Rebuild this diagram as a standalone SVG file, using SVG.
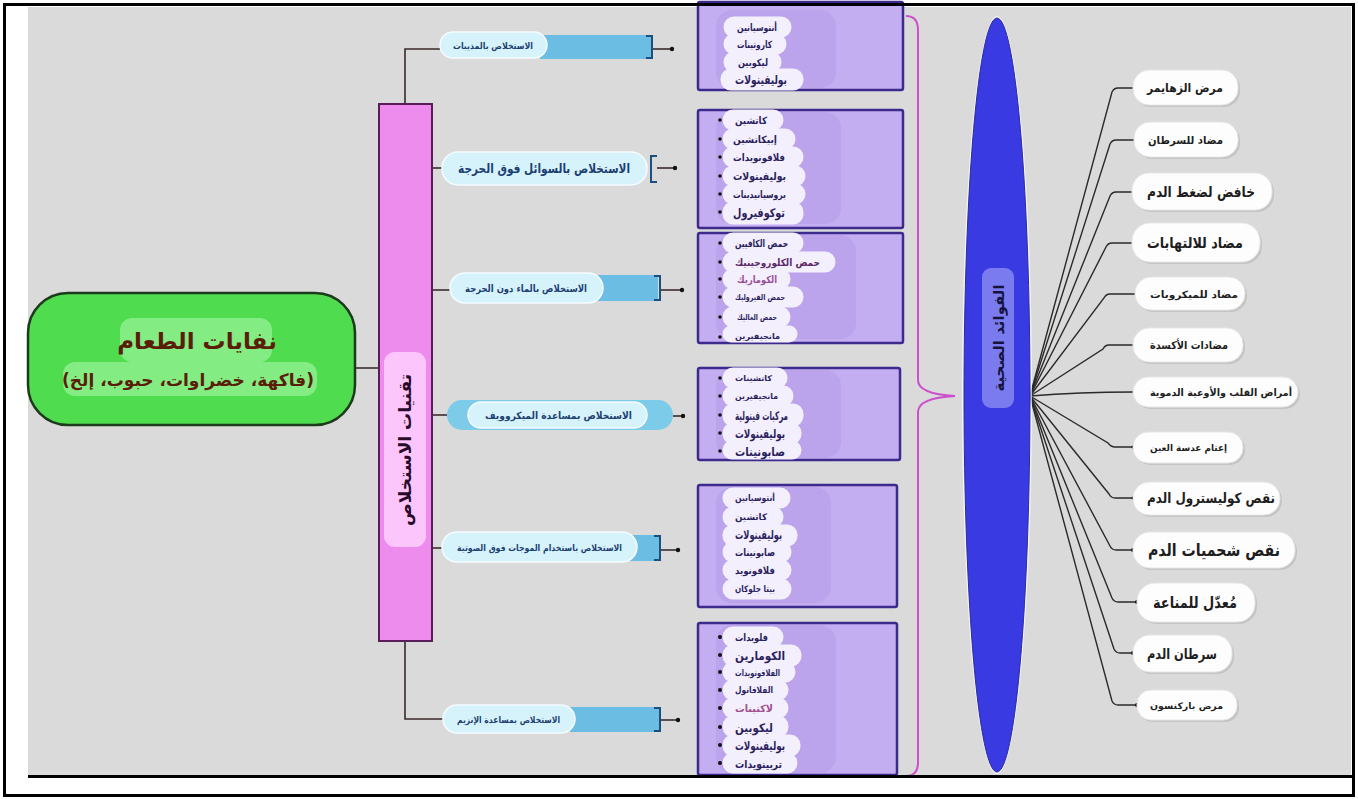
<svg xmlns="http://www.w3.org/2000/svg" width="1358" height="799" viewBox="0 0 1358 799">
<defs>
<style>
text{font-family:"DejaVu Sans",sans-serif;}
.tech{fill:#d6f3fc;stroke:#f4fcff;stroke-width:1.5;}
.techdark{fill:#6cbde3;}
.brk{fill:none;stroke:#1b4f7d;stroke-width:2;}
.ttxt{font-size:9px;font-weight:bold;fill:#1d3f72;}
.box{fill:#c4aef2;stroke:#3c2b8c;stroke-width:2.5;}
.cloud{fill:#f3effd;stroke:#f3effd;stroke-width:3;}
.haze{fill:#b59ce8;opacity:0.55;}
.ctxt{font-weight:bold;fill:#2b1f5e;}
.bul{fill:#111;}
.pill{fill:#fdfdfd;stroke:#e6e6e6;stroke-width:1;}
.shadow{fill:#c4c4c4;}
.btxt{font-weight:bold;fill:#1e1e1e;}
.fan{fill:none;stroke:#2a2a2a;stroke-width:1.4;}
.conn{fill:none;stroke:#3a2a2a;stroke-width:1.6;}
</style>
</defs>
<rect x="0" y="0" width="1358" height="799" fill="#ffffff"/>
<rect x="28" y="7" width="1323" height="768" fill="#dadada"/>

<!-- connectors -->
<g id="connectors">
<path class="conn" d="M356,368 H379"/>
<path class="conn" d="M405,104 V49 H440"/>
<path class="conn" d="M432,168 H442"/>
<path class="conn" d="M432,290 H450"/>
<path class="conn" d="M432,415 H447"/>
<path class="conn" d="M432,548 H442"/>
<path class="conn" d="M405,641 V719 H443"/>
<path class="conn" d="M652,49 H672"/><circle cx="672" cy="49" r="2.2" class="bul"/>
<path class="conn" d="M657,168 H675"/><circle cx="675" cy="168" r="2.2" class="bul"/>
<path class="conn" d="M660,290 H682"/><circle cx="682" cy="290" r="2.2" class="bul"/>
<path class="conn" d="M673,416 H683"/><circle cx="683" cy="416" r="2.2" class="bul"/>
<path class="conn" d="M660,550 H678"/><circle cx="678" cy="550" r="2.2" class="bul"/>
<path class="conn" d="M660,720 H678"/><circle cx="678" cy="720" r="2.2" class="bul"/>
<path d="M906,16 Q918,16 918,30 V380 Q918,394 955,396 Q918,398 918,412 V762 Q918,776 906,776" fill="none" stroke="#cc4fcc" stroke-width="2"/>
<path class="fan" d="M1030,396 L1112,92 Q1114,88 1118,88 H1133"/>
<path class="fan" d="M1030,396 L1110,144 Q1112,140 1116,140 H1134"/>
<path class="fan" d="M1030,396 L1110,196 Q1112,192 1116,192 H1132"/>
<path class="fan" d="M1030,396 L1106,247 Q1108,243 1112,243 H1132"/>
<path class="fan" d="M1030,396 L1104,298 Q1106,294 1110,294 H1135"/>
<path class="fan" d="M1030,396 L1103,349 Q1105,345 1109,345 H1133"/>
<path class="fan" d="M1030,396 Q1080,392 1133,392"/>
<path class="fan" d="M1030,396 L1108,443 Q1111,447 1115,447 H1133"/>
<path class="fan" d="M1030,396 L1109,494 Q1111,498 1115,498 H1133"/>
<path class="fan" d="M1030,396 L1110,546 Q1112,550 1116,550 H1133"/>
<path class="fan" d="M1030,396 L1112,598 Q1114,602 1118,602 H1137"/>
<path class="fan" d="M1030,396 L1114,649 Q1116,653 1120,653 H1133"/>
<path class="fan" d="M1030,396 L1112,701 Q1114,705 1118,705 H1137"/>
<circle cx="1133" cy="550" r="2" class="bul"/>
<circle cx="1137" cy="602" r="2" class="bul"/>
<circle cx="1133" cy="653" r="2" class="bul"/>
<circle cx="1137" cy="705" r="2" class="bul"/>
<circle cx="1133" cy="447" r="1.6" class="bul"/>
<circle cx="1133" cy="498" r="1.6" class="bul"/>
</g>

<!-- root -->
<g id="root">
<rect x="28" y="293" width="327" height="132" rx="40" fill="#4fdc4f" stroke="#1d3a1d" stroke-width="2.5"/>
<rect x="120" y="318" width="152" height="44" rx="12" fill="#8cee8c" opacity="0.85"/>
<rect x="63" y="362" width="254" height="34" rx="12" fill="#8cee8c" opacity="0.85"/>
<text x="197" y="349" font-size="23" font-weight="bold" fill="#5a1e08" text-anchor="middle" direction="rtl">نفايات الطعام</text>
<text x="188" y="386" font-size="17" font-weight="bold" fill="#5a1e08" text-anchor="middle" direction="rtl">(فاكهة، خضراوات، حبوب، إلخ)</text>
</g>

<!-- techniques bar -->
<g id="techniques">
<rect x="379" y="104" width="53" height="537" fill="#ee8cee" stroke="#5a1d5a" stroke-width="2"/>
<rect x="384" y="352" width="42" height="195" rx="11" fill="#fcc6fc"/>
<text transform="translate(411,450) rotate(-90)" font-size="17" font-weight="bold" fill="#2a0a2a" text-anchor="middle">تقنيات الاستخلاص</text>
</g>

<g id="tech1">
<rect class="techdark" x="540" y="35" width="111" height="24"/>
<path class="brk" d="M646,36 H652 V58 H646"/>
<rect class="tech" x="440" y="32" width="107" height="26" rx="13"/>
<text class="ttxt" x="453" y="49" textLength="80" lengthAdjust="spacingAndGlyphs">الاستخلاص بالمذيبات</text>
</g>
<g id="tech2">
<rect class="tech" x="442" y="152" width="205" height="33" rx="16"/>
<path class="brk" d="M657,156 H651 V182 H657"/>
<text class="ttxt" x="458" y="173" textLength="172" lengthAdjust="spacingAndGlyphs" style="font-size:13px">الاستخلاص بالسوائل فوق الحرجة</text>
</g>
<g id="tech3">
<rect class="techdark" x="598" y="275" width="60" height="26"/>
<path class="brk" d="M654,276 H660 V300 H654"/>
<rect class="tech" x="450" y="273" width="153" height="30" rx="15"/>
<text class="ttxt" x="465" y="292" textLength="122" lengthAdjust="spacingAndGlyphs" style="font-size:10px">الاستخلاص بالماء دون الحرجة</text>
</g>
<g id="tech4">
<rect x="447" y="400" width="226" height="30" rx="15" fill="#7ccbe8"/>
<rect class="tech" x="468" y="402" width="179" height="26" rx="13"/>
<text class="ttxt" x="485" y="419" textLength="147" lengthAdjust="spacingAndGlyphs" style="font-size:10px">الاستخلاص بمساعدة الميكروويف</text>
</g>
<g id="tech5">
<rect class="techdark" x="628" y="535" width="32" height="26"/>
<path class="brk" d="M654,536 H660 V560 H654"/>
<rect class="tech" x="442" y="532" width="195" height="30" rx="15"/>
<text class="ttxt" x="457" y="551" textLength="165" lengthAdjust="spacingAndGlyphs">الاستخلاص باستخدام الموجات فوق الصوتية</text>
</g>
<g id="tech6">
<rect class="techdark" x="570" y="707" width="90" height="25"/>
<path class="brk" d="M654,708 H660 V731 H654"/>
<rect class="tech" x="443" y="705" width="132" height="28" rx="14"/>
<text class="ttxt" x="457" y="723" textLength="103" lengthAdjust="spacingAndGlyphs">الاستخلاص بمساعدة الإنزيم</text>
</g>

<!-- compound boxes -->
<g id="box1">
<rect class="box" x="698" y="2" width="205" height="88" rx="2"/>
<rect class="haze" x="716" y="10" width="120" height="78" rx="16"/>
<rect class="cloud" x="725" y="18" width="65" height="18" rx="9"/>
<rect class="cloud" x="725" y="35" width="60" height="18" rx="9"/>
<rect class="cloud" x="725" y="53" width="55" height="18" rx="9"/>
<rect class="cloud" x="722" y="70" width="80" height="19" rx="9"/>
<text class="ctxt" x="737" y="31" font-size="10" textLength="40" lengthAdjust="spacingAndGlyphs">أنتوسيانين</text>
<text class="ctxt" x="737" y="48" font-size="10" textLength="35" lengthAdjust="spacingAndGlyphs">كاروتينات</text>
<text class="ctxt" x="738" y="66" font-size="10" textLength="30" lengthAdjust="spacingAndGlyphs">ليكوبين</text>
<text class="ctxt" x="735" y="84" font-size="12" textLength="52" lengthAdjust="spacingAndGlyphs">بوليفينولات</text>
</g>

<g id="box2">
<rect class="box" x="698" y="110" width="205" height="118" rx="2"/>
<rect class="haze" x="716" y="112" width="125" height="112" rx="16"/>
<rect class="cloud" x="724" y="111" width="58" height="18" rx="9"/>
<rect class="cloud" x="724" y="130" width="70" height="18" rx="9"/>
<rect class="cloud" x="724" y="148" width="78" height="18" rx="9"/>
<rect class="cloud" x="724" y="167" width="80" height="18" rx="9"/>
<rect class="cloud" x="724" y="185" width="80" height="18" rx="9"/>
<rect class="cloud" x="724" y="203" width="78" height="20" rx="9"/>
<circle class="bul" cx="720" cy="120" r="1.8"/><circle class="bul" cx="720" cy="139" r="1.8"/><circle class="bul" cx="720" cy="157" r="1.8"/><circle class="bul" cx="720" cy="176" r="1.8"/><circle class="bul" cx="720" cy="194" r="1.8"/><circle class="bul" cx="720" cy="212" r="1.8"/>
<text class="ctxt" x="735" y="124" font-size="10" textLength="32" lengthAdjust="spacingAndGlyphs">كاتشين</text>
<text class="ctxt" x="733" y="143" font-size="10" textLength="44" lengthAdjust="spacingAndGlyphs">إبيكاتشين</text>
<text class="ctxt" x="733" y="161" font-size="10" textLength="52" lengthAdjust="spacingAndGlyphs">فلافونويدات</text>
<text class="ctxt" x="733" y="180" font-size="11" textLength="53" lengthAdjust="spacingAndGlyphs">بوليفينولات</text>
<text class="ctxt" x="733" y="198" font-size="10" textLength="53" lengthAdjust="spacingAndGlyphs">بروسيانيدينات</text>
<text class="ctxt" x="733" y="217" font-size="12" textLength="52" lengthAdjust="spacingAndGlyphs">توكوفيرول</text>
</g>

<g id="box3">
<rect class="box" x="698" y="233" width="205" height="110" rx="2"/>
<rect class="haze" x="716" y="235" width="140" height="104" rx="16"/>
<rect class="cloud" x="724" y="234" width="78" height="18" rx="9"/>
<rect class="cloud" x="724" y="253" width="110" height="18" rx="9"/>
<rect class="cloud" x="724" y="270" width="65" height="18" rx="9"/>
<rect class="cloud" x="724" y="288" width="78" height="18" rx="9"/>
<rect class="cloud" x="724" y="308" width="65" height="18" rx="9"/>
<rect class="cloud" x="724" y="327" width="72" height="14" rx="7"/>
<circle class="bul" cx="720" cy="243" r="1.8"/><circle class="bul" cx="720" cy="262" r="1.8"/><circle class="bul" cx="720" cy="279" r="1.8"/><circle class="bul" cx="720" cy="297" r="1.8"/><circle class="bul" cx="720" cy="317" r="1.8"/><circle class="bul" cx="720" cy="337" r="1.8"/>
<text class="ctxt" x="735" y="247" font-size="10" textLength="53" lengthAdjust="spacingAndGlyphs">حمض الكافيين</text>
<text class="ctxt" x="735" y="266" font-size="10" textLength="85" lengthAdjust="spacingAndGlyphs" style="fill:#5c2a68">حمض الكلوروجينيك</text>
<text class="ctxt" x="737" y="283" font-size="10" textLength="40" lengthAdjust="spacingAndGlyphs" style="fill:#9c4f98">الكوماريك</text>
<text class="ctxt" x="735" y="300" font-size="8" textLength="50" lengthAdjust="spacingAndGlyphs">حمض الفيروليك</text>
<text class="ctxt" x="737" y="320" font-size="8" textLength="40" lengthAdjust="spacingAndGlyphs">حمض الغاليك</text>
<text class="ctxt" x="735" y="339" font-size="8" textLength="45" lengthAdjust="spacingAndGlyphs">مانجيفيرين</text>
</g>

<g id="box4">
<rect class="box" x="698" y="368" width="202" height="92" rx="2"/>
<rect class="haze" x="716" y="370" width="125" height="88" rx="16"/>
<rect class="cloud" x="724" y="369" width="62" height="18" rx="9"/>
<rect class="cloud" x="724" y="387" width="68" height="18" rx="9"/>
<rect class="cloud" x="724" y="405" width="78" height="20" rx="9"/>
<rect class="cloud" x="724" y="424" width="76" height="19" rx="9"/>
<rect class="cloud" x="724" y="442" width="76" height="16" rx="8"/>
<circle class="bul" cx="720" cy="378" r="1.8"/><circle class="bul" cx="720" cy="396" r="1.8"/><circle class="bul" cx="720" cy="415" r="1.8"/><circle class="bul" cx="720" cy="433" r="1.8"/><circle class="bul" cx="720" cy="451" r="1.8"/>
<text class="ctxt" x="735" y="381" font-size="8" textLength="37" lengthAdjust="spacingAndGlyphs">كاتشينات</text>
<text class="ctxt" x="735" y="399" font-size="8" textLength="43" lengthAdjust="spacingAndGlyphs">مانجيفيرين</text>
<text class="ctxt" x="735" y="420" font-size="12" textLength="53" lengthAdjust="spacingAndGlyphs">مركبات فينولية</text>
<text class="ctxt" x="735" y="438" font-size="12" textLength="50" lengthAdjust="spacingAndGlyphs">بوليفينولات</text>
<text class="ctxt" x="735" y="456" font-size="12" textLength="50" lengthAdjust="spacingAndGlyphs">صابونينات</text>
</g>

<g id="box5">
<rect class="box" x="698" y="485" width="199" height="122" rx="2"/>
<rect class="haze" x="716" y="487" width="115" height="116" rx="16"/>
<rect class="cloud" x="724" y="489" width="65" height="18" rx="9"/>
<rect class="cloud" x="724" y="508" width="58" height="18" rx="9"/>
<rect class="cloud" x="724" y="526" width="72" height="19" rx="9"/>
<rect class="cloud" x="724" y="543" width="66" height="18" rx="9"/>
<rect class="cloud" x="724" y="561" width="66" height="18" rx="9"/>
<rect class="cloud" x="724" y="580" width="66" height="18" rx="9"/>
<text class="ctxt" x="735" y="501" font-size="9" textLength="40" lengthAdjust="spacingAndGlyphs">أنتوسيانين</text>
<text class="ctxt" x="735" y="520" font-size="9" textLength="32" lengthAdjust="spacingAndGlyphs">كاتشين</text>
<text class="ctxt" x="735" y="539" font-size="12" textLength="47" lengthAdjust="spacingAndGlyphs">بوليفينولات</text>
<text class="ctxt" x="735" y="556" font-size="10" textLength="40" lengthAdjust="spacingAndGlyphs">صابونينات</text>
<text class="ctxt" x="735" y="574" font-size="10" textLength="40" lengthAdjust="spacingAndGlyphs">فلافونويد</text>
<text class="ctxt" x="735" y="592" font-size="9" textLength="40" lengthAdjust="spacingAndGlyphs">بيتا جلوكان</text>
</g>

<g id="box6">
<rect class="box" x="698" y="623" width="199" height="152" rx="2"/>
<rect class="haze" x="716" y="625" width="120" height="148" rx="16"/>
<rect class="cloud" x="724" y="628" width="58" height="18" rx="9"/>
<rect class="cloud" x="724" y="646" width="76" height="19" rx="9"/>
<rect class="cloud" x="724" y="663" width="70" height="18" rx="9"/>
<rect class="cloud" x="724" y="681" width="63" height="18" rx="9"/>
<rect class="cloud" x="724" y="699" width="63" height="18" rx="9"/>
<rect class="cloud" x="724" y="717" width="63" height="19" rx="9"/>
<rect class="cloud" x="724" y="736" width="75" height="19" rx="9"/>
<rect class="cloud" x="724" y="754" width="72" height="18" rx="9"/>
<circle class="bul" cx="720" cy="637" r="2"/><circle class="bul" cx="720" cy="655" r="2"/><circle class="bul" cx="720" cy="672" r="2"/><circle class="bul" cx="720" cy="690" r="2"/><circle class="bul" cx="720" cy="708" r="2"/><circle class="bul" cx="720" cy="727" r="2"/><circle class="bul" cx="720" cy="745" r="2"/><circle class="bul" cx="720" cy="763" r="2"/>
<text class="ctxt" x="735" y="641" font-size="10" textLength="33" lengthAdjust="spacingAndGlyphs">فلويدات</text>
<text class="ctxt" x="735" y="660" font-size="12" textLength="50" lengthAdjust="spacingAndGlyphs">الكومارين</text>
<text class="ctxt" x="735" y="676" font-size="9" textLength="45" lengthAdjust="spacingAndGlyphs">الفلافونويدات</text>
<text class="ctxt" x="735" y="693" font-size="9" textLength="38" lengthAdjust="spacingAndGlyphs">الفلافانول</text>
<text class="ctxt" x="735" y="712" font-size="10" textLength="38" lengthAdjust="spacingAndGlyphs" style="fill:#a0508c">لاكتينات</text>
<text class="ctxt" x="735" y="732" font-size="12" textLength="38" lengthAdjust="spacingAndGlyphs">ليكوبين</text>
<text class="ctxt" x="735" y="750" font-size="12" textLength="50" lengthAdjust="spacingAndGlyphs">بوليفينولات</text>
<text class="ctxt" x="735" y="768" font-size="11" textLength="47" lengthAdjust="spacingAndGlyphs">تربينويدات</text>
</g>

<!-- benefits hub -->
<g id="benefits">
<ellipse cx="997" cy="395" rx="35" ry="379" fill="#ffffff" opacity="0.7"/>
<ellipse cx="997" cy="395" rx="33" ry="377" fill="#3a3ae2" stroke="#2a2aa0" stroke-width="1"/>
<rect x="982" y="268" width="32" height="140" rx="9" fill="#7b7bf0"/>
<text transform="translate(1004,338) rotate(-90)" font-size="15" font-weight="bold" fill="#14143e" text-anchor="middle">الفوائد الصحية</text>
</g>

<!-- benefit labels -->
<g id="b1"><rect class="shadow" x="1135" y="72" width="105" height="35" rx="16"/><rect class="pill" x="1133" y="70" width="105" height="35" rx="16"/><text class="btxt" x="1147" y="92" font-size="12" textLength="76" lengthAdjust="spacingAndGlyphs">مرض الزهايمر</text></g>
<g id="b2"><rect class="shadow" x="1136" y="124" width="104" height="35" rx="16"/><rect class="pill" x="1134" y="122" width="104" height="35" rx="16"/><text class="btxt" x="1148" y="144" font-size="11" textLength="75" lengthAdjust="spacingAndGlyphs">مضاد للسرطان</text></g>
<g id="b3"><rect class="shadow" x="1134" y="175" width="140" height="37" rx="17"/><rect class="pill" x="1132" y="173" width="140" height="37" rx="17"/><text class="btxt" x="1147" y="197" font-size="15" textLength="108" lengthAdjust="spacingAndGlyphs">خافض لضغط الدم</text></g>
<g id="b4"><rect class="shadow" x="1134" y="225" width="128" height="39" rx="18"/><rect class="pill" x="1132" y="223" width="128" height="39" rx="18"/><text class="btxt" x="1147" y="248" font-size="15" textLength="96" lengthAdjust="spacingAndGlyphs">مضاد للالتهابات</text></g>
<g id="b5"><rect class="shadow" x="1137" y="279" width="110" height="33" rx="16"/><rect class="pill" x="1135" y="277" width="110" height="33" rx="16"/><text class="btxt" x="1150" y="298" font-size="10" textLength="88" lengthAdjust="spacingAndGlyphs">مضاد للميكروبات</text></g>
<g id="b6"><rect class="shadow" x="1135" y="330" width="110" height="34" rx="16"/><rect class="pill" x="1133" y="328" width="110" height="34" rx="16"/><text class="btxt" x="1150" y="349" font-size="11" textLength="78" lengthAdjust="spacingAndGlyphs">مضادات الأكسدة</text></g>
<g id="b7"><rect class="shadow" x="1135" y="379" width="165" height="30" rx="15"/><rect class="pill" x="1133" y="377" width="165" height="30" rx="15"/><text class="btxt" x="1150" y="396" font-size="10" textLength="142" lengthAdjust="spacingAndGlyphs">أمراض القلب والأوعية الدموية</text></g>
<g id="b8"><rect class="shadow" x="1135" y="434" width="110" height="31" rx="15"/><rect class="pill" x="1133" y="432" width="110" height="31" rx="15"/><text class="btxt" x="1150" y="451" font-size="9" textLength="77" lengthAdjust="spacingAndGlyphs">إعتام عدسة العين</text></g>
<g id="b9"><rect class="shadow" x="1135" y="484" width="147" height="33" rx="16"/><rect class="pill" x="1133" y="482" width="147" height="33" rx="16"/><text class="btxt" x="1147" y="503" font-size="14" textLength="128" lengthAdjust="spacingAndGlyphs">نقص كوليسترول الدم</text></g>
<g id="b10"><rect class="shadow" x="1135" y="534" width="162" height="36" rx="17"/><rect class="pill" x="1133" y="532" width="162" height="36" rx="17"/><text class="btxt" x="1148" y="556" font-size="17" textLength="132" lengthAdjust="spacingAndGlyphs">نقص شحميات الدم</text></g>
<g id="b11"><rect class="shadow" x="1139" y="585" width="118" height="39" rx="18"/><rect class="pill" x="1137" y="583" width="118" height="39" rx="18"/><text class="btxt" x="1153" y="608" font-size="16" textLength="84" lengthAdjust="spacingAndGlyphs">مُعدّل للمناعة</text></g>
<g id="b12"><rect class="shadow" x="1135" y="637" width="99" height="37" rx="17"/><rect class="pill" x="1133" y="635" width="99" height="37" rx="17"/><text class="btxt" x="1147" y="659" font-size="14" textLength="70" lengthAdjust="spacingAndGlyphs">سرطان الدم</text></g>
<g id="b13"><rect class="shadow" x="1139" y="692" width="100" height="30" rx="14"/><rect class="pill" x="1137" y="690" width="100" height="30" rx="14"/><text class="btxt" x="1150" y="709" font-size="9" textLength="73" lengthAdjust="spacingAndGlyphs">مرض باركنسون</text></g>

<!-- frame -->
<rect x="28" y="775" width="1324" height="22" fill="#ffffff"/>
<path d="M28,776.5 H1352" stroke="#000" stroke-width="3"/>
<rect x="4.5" y="4.5" width="1349" height="791" fill="none" stroke="#000" stroke-width="3"/>
</svg>
